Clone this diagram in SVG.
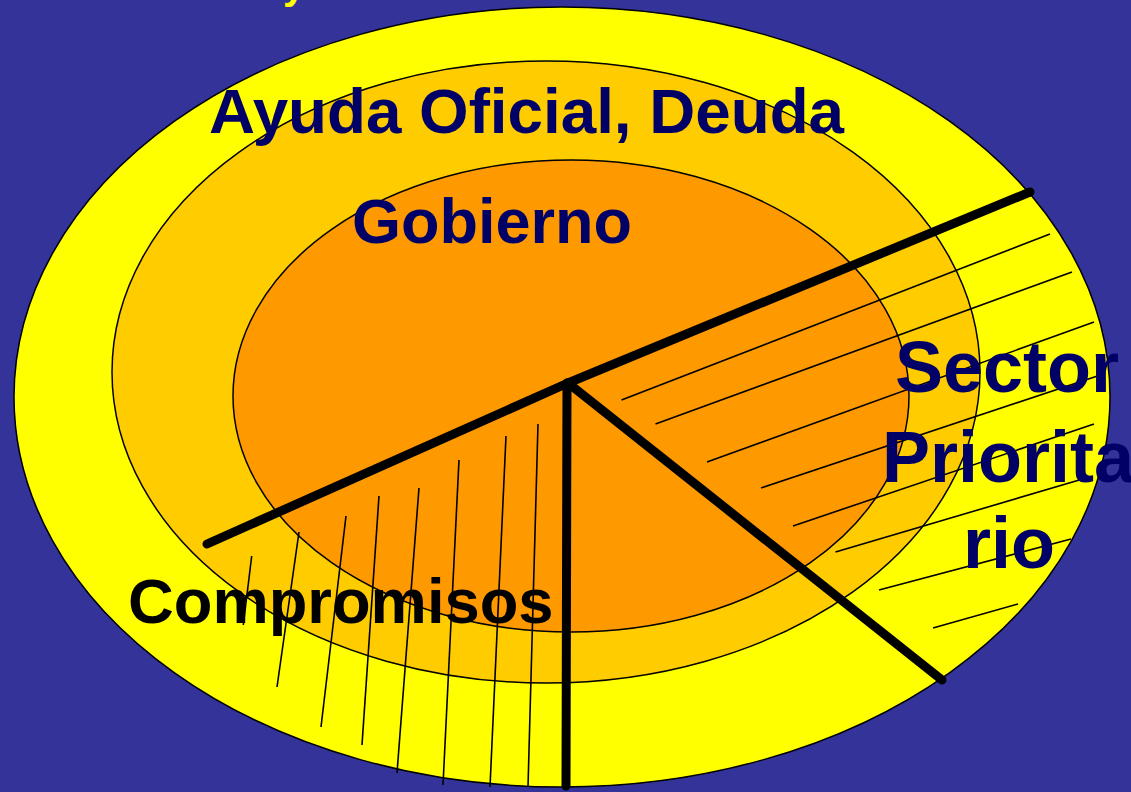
<svg xmlns="http://www.w3.org/2000/svg" width="1131" height="792" viewBox="0 0 1131 792">
<style>
.ring{stroke:#000;stroke-width:1.5}
.thick{stroke:#000;stroke-width:9;stroke-linecap:round;fill:none}
.hatch{stroke:#000;stroke-width:1.6;fill:none}
.lbl{font-family:"Liberation Sans",Arial,sans-serif;font-weight:bold}
.navy{fill:#000066}
</style>
<rect width="1131" height="792" fill="#333399"/>
<text class="lbl" x="283" y="-1" font-size="40" fill="#FFFF00">y</text>
<g id="outer"><ellipse class="ring" cx="562" cy="397" rx="548" ry="390" fill="#FFFF00"/></g>
<g id="middle"><ellipse class="ring" cx="546" cy="372" rx="434" ry="311" fill="#FFCC00"/></g>
<g id="inner"><ellipse class="ring" cx="571" cy="396" rx="338" ry="236" fill="#FF9900"/></g>
<g id="connectors">
<g id="hatch-compromisos" class="hatch">
<line x1="251.7" y1="556" x2="243.3" y2="625"/>
<line x1="299" y1="532" x2="277" y2="687"/>
<line x1="346" y1="516" x2="321" y2="727"/>
<line x1="379" y1="496" x2="362" y2="745"/>
<line x1="419" y1="488" x2="397" y2="773"/>
<line x1="459" y1="460" x2="443" y2="785"/>
<line x1="506" y1="436" x2="490" y2="787"/>
<line x1="538" y1="424" x2="528" y2="787"/>
</g>
<g id="hatch-sector" class="hatch">
<line x1="621.5" y1="400" x2="1050" y2="234"/>
<line x1="655.5" y1="424" x2="1072" y2="272"/>
<line x1="707" y1="462" x2="1094" y2="322"/>
<line x1="761" y1="488" x2="1103.5" y2="374"/>
<line x1="793" y1="526" x2="1094" y2="424"/>
<line x1="835.5" y1="552" x2="1089.5" y2="477"/>
<line x1="879" y1="590" x2="1071" y2="539"/>
<line x1="933" y1="628" x2="1018" y2="604"/>
</g>
<g id="dividers" class="thick">
<line x1="568" y1="383" x2="1030" y2="192"/>
<line x1="568" y1="383" x2="207" y2="544"/>
<line x1="567" y1="383" x2="566" y2="786"/>
<line x1="568" y1="383" x2="942" y2="680"/>
</g>
</g>
<g id="label-ayuda"><text class="lbl navy" x="209" y="133" font-size="63.5" textLength="635" lengthAdjust="spacingAndGlyphs">Ayuda Oficial, Deuda</text></g>
<g id="label-gobierno"><text class="lbl navy" x="352" y="243" font-size="63">Gobierno</text></g>
<g id="label-compromisos"><text class="lbl" x="128" y="623" font-size="63.3" fill="#000">Compromisos</text></g>
<g id="label-sector"><text class="lbl navy" font-size="72" text-anchor="middle"><tspan x="1007" y="392">Sector</tspan><tspan x="1008" y="482">Priorita</tspan><tspan x="1009" y="568">rio</tspan></text></g>
</svg>
